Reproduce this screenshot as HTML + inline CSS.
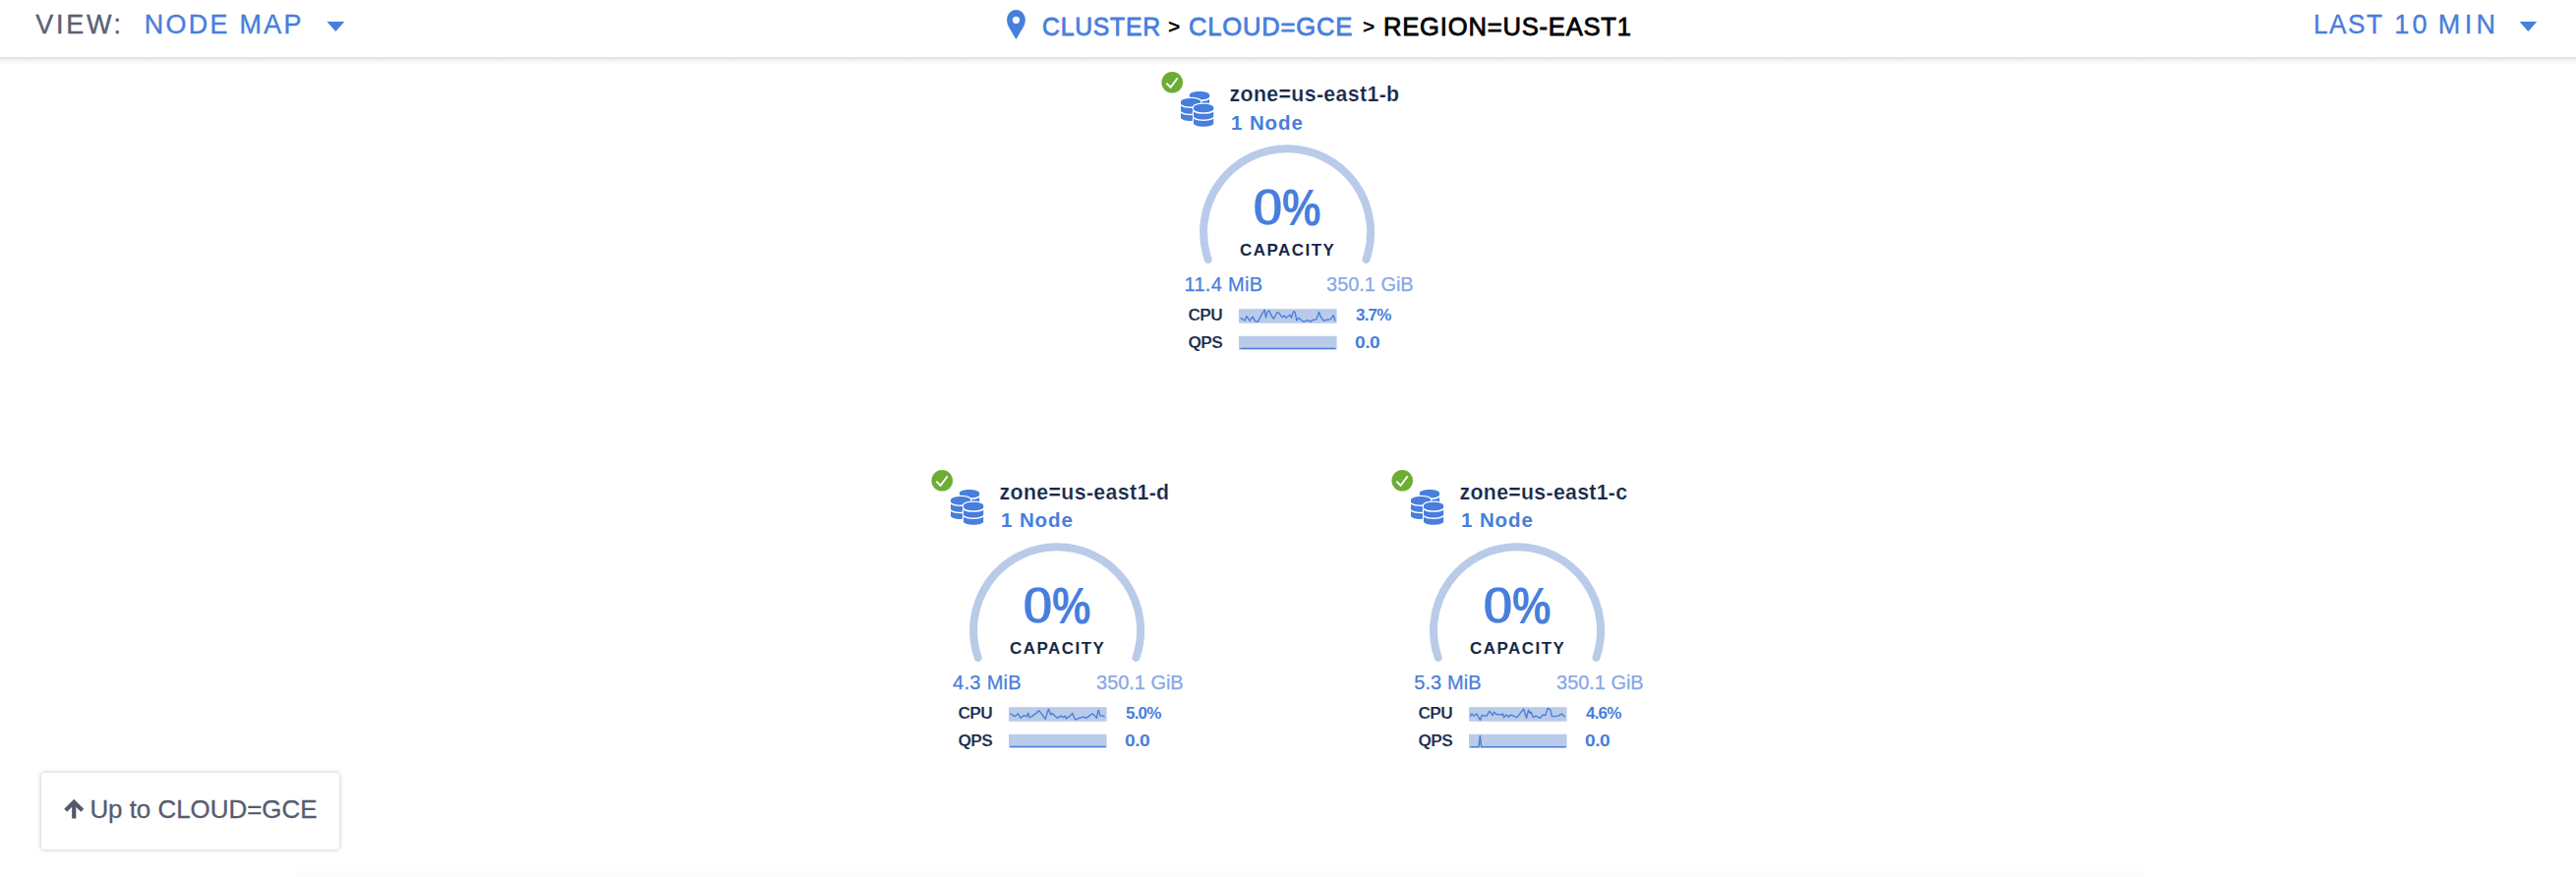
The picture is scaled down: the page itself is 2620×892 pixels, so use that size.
<!DOCTYPE html>
<html lang="en"><head><meta charset="utf-8"><title>Node Map</title>
<style>
html,body{margin:0;padding:0;background:#fff;}
body{width:2620px;height:892px;position:relative;overflow:hidden;font-family:"Liberation Sans",sans-serif;}
.hdr{position:absolute;left:0;top:0;width:2620px;height:58px;background:#fff;z-index:2;}
.hsh{position:absolute;left:0;top:58px;width:2620px;height:9px;background:linear-gradient(to bottom,rgba(0,0,0,.125) 0,rgba(0,0,0,.085) 18%,rgba(0,0,0,.045) 42%,rgba(0,0,0,.015) 70%,rgba(0,0,0,0) 100%);z-index:2;}
.t{position:absolute;white-space:nowrap;line-height:1;}
.h{font-size:27px;top:12px;}
.view{left:36.3px;color:#596075;letter-spacing:2.7px;-webkit-text-stroke:.35px #596075;}
.nmap{left:146.8px;color:#487edc;letter-spacing:2.25px;-webkit-text-stroke:.35px #487edc;}
.bc{font-size:26px;color:#487edc;letter-spacing:.8px;top:14px;-webkit-text-stroke:.8px #487edc;transform-origin:0 50%;}
.sep{color:#000;top:16px;font-size:21px;font-weight:bold;}
.cur{font-size:26px;color:#000;letter-spacing:.8px;top:14px;-webkit-text-stroke:.8px #000;transform-origin:0 50%;}
.last{color:#487edc;letter-spacing:2.27px;-webkit-text-stroke:.35px #487edc;}
.node{position:absolute;width:300px;height:320px;}
.nsvg{position:absolute;left:0;top:0;overflow:visible;}
.zone{left:90.6px;top:26px;font-size:21.3px;font-weight:bold;color:#152849;letter-spacing:.53px;-webkit-text-stroke:.2px #fff;}
.cnt{left:92px;top:54.4px;font-size:20.5px;font-weight:bold;color:#487edc;letter-spacing:.9px;}
.pct{font-weight:bold;color:#487edc;transform-origin:0 50%;}
.p0{font-size:53.5px;top:123.9px;left:113px;transform:scaleX(1.11);-webkit-text-stroke:1.6px #fff;}
.p1{font-size:51.5px;top:126.1px;left:143.8px;transform:scaleX(.862);}
.cap{left:49px;width:200px;box-sizing:border-box;padding-left:1.45px;text-align:center;top:186.1px;font-size:17px;font-weight:bold;color:#152849;letter-spacing:1.45px;}
.used{left:44.5px;top:218.8px;font-size:20px;color:#487edc;letter-spacing:.3px;-webkit-text-stroke:.25px #487edc;}
.total{left:189.1px;top:218.8px;font-size:20px;color:#86a8e6;letter-spacing:-.05px;-webkit-text-stroke:.25px #86a8e6;}
.lbl{left:48.4px;font-size:17.3px;font-weight:bold;color:#152849;letter-spacing:-.6px;-webkit-text-stroke:.2px #fff;}
.val{left:219px;font-size:17px;font-weight:bold;color:#487edc;letter-spacing:-.8px;}
.v2{letter-spacing:-.4px;left:218.4px;transform:scaleX(1.13);transform-origin:0 50%;}
.l1,.v1{top:252px;}
.l2,.v2{top:279.7px;}
.btn{position:absolute;left:42px;top:786px;width:302.5px;height:78px;background:#fff;border-radius:4px;box-shadow:0 0 5px rgba(0,0,0,.25);}
.btn .t{left:49.4px;top:23.5px;font-size:26px;color:#565c70;letter-spacing:-.05px;-webkit-text-stroke:.3px #565c70;}
</style></head><body>
<div class="hsh"></div><div class="hdr">
<div class="t h view">VIEW:</div>
<div class="t h nmap">NODE MAP</div>
<svg style="position:absolute;left:333px;top:21px;overflow:visible" width="19" height="12" viewBox="0 0 19 12"><path d="M-0.5 1H17.3L8.4 10.9Z" fill="#487edc"/></svg>
<svg style="position:absolute;left:1023px;top:9px" width="22" height="32" viewBox="0 0 22 32"><path d="M10.45 1C5.2 1 1.1 5.5 1.1 11.3C1.1 14.3 2.1 16.8 3.3 19L10.45 30.9L17.6 19C18.8 16.8 19.8 14.3 19.8 11.3C19.8 5.5 15.7 1 10.45 1Z" fill="#487edc"/><circle cx="10.45" cy="11.3" r="3.6" fill="#fff"/></svg>
<div class="t h bc" id="b1" style="left:1059.6px;transform:scaleX(.952)">CLUSTER</div>
<div class="t h sep" id="s1" style="left:1188px">&gt;</div>
<div class="t h bc" id="b2" style="left:1209.4px;transform:scaleX(.984)">CLOUD=GCE</div>
<div class="t h sep" id="s2" style="left:1386px">&gt;</div>
<div class="t h cur" id="b3" style="left:1407px;transform:scaleX(.984)">REGION=US-EAST1</div>
<div class="range"><span class="t h last" style="left:2353.4px;letter-spacing:1.6px;transform:scaleX(.969);transform-origin:0 50%">LAST</span> <span class="t h last" style="left:2435.3px;letter-spacing:3.2px">10</span> <span class="t h last" style="left:2479.8px;letter-spacing:4.4px">MIN</span></div>
<svg style="position:absolute;left:2562px;top:21px;overflow:visible" width="19" height="12" viewBox="0 0 19 12"><path d="M0.5 1H18.3L9.4 10.9Z" fill="#487edc"/></svg>
</div>
<div class="node" style="left:1160px;top:60px">
<svg class="nsvg" width="300" height="320" viewBox="0 0 300 320">
<circle cx="32.2" cy="23.8" r="10.8" fill="#6cad33"/>
<polyline points="26.3,24.6 30.6,28.8 37.7,19.2" fill="none" stroke="#fff" stroke-width="1.9"/>
<g transform="translate(49.9 33) scale(0.0451)"><path d="M448 73.143v45.714C448 159.143 347.667 192 224 192S0 159.143 0 118.857V73.143C0 32.857 100.333 0 224 0s224 32.857 224 73.143zM448 176v102.857C448 319.143 347.667 352 224 352S0 319.143 0 278.857V176c48.125 33.143 136.208 48.572 224 48.572S399.874 209.143 448 176zm0 160v102.857C448 479.143 347.667 512 224 512S0 479.143 0 438.857V336c48.125 33.143 136.208 48.572 224 48.572S399.874 369.143 448 336z" fill="#fff" stroke="#fff" stroke-width="52" stroke-linejoin="round"/><path d="M448 73.143v45.714C448 159.143 347.667 192 224 192S0 159.143 0 118.857V73.143C0 32.857 100.333 0 224 0s224 32.857 224 73.143zM448 176v102.857C448 319.143 347.667 352 224 352S0 319.143 0 278.857V176c48.125 33.143 136.208 48.572 224 48.572S399.874 209.143 448 176zm0 160v102.857C448 479.143 347.667 512 224 512S0 479.143 0 438.857V336c48.125 33.143 136.208 48.572 224 48.572S399.874 369.143 448 336z" fill="#487edc"/></g>
<g transform="translate(41 39.9) scale(0.0451)"><path d="M448 73.143v45.714C448 159.143 347.667 192 224 192S0 159.143 0 118.857V73.143C0 32.857 100.333 0 224 0s224 32.857 224 73.143zM448 176v102.857C448 319.143 347.667 352 224 352S0 319.143 0 278.857V176c48.125 33.143 136.208 48.572 224 48.572S399.874 209.143 448 176zm0 160v102.857C448 479.143 347.667 512 224 512S0 479.143 0 438.857V336c48.125 33.143 136.208 48.572 224 48.572S399.874 369.143 448 336z" fill="#fff" stroke="#fff" stroke-width="52" stroke-linejoin="round"/><path d="M448 73.143v45.714C448 159.143 347.667 192 224 192S0 159.143 0 118.857V73.143C0 32.857 100.333 0 224 0s224 32.857 224 73.143zM448 176v102.857C448 319.143 347.667 352 224 352S0 319.143 0 278.857V176c48.125 33.143 136.208 48.572 224 48.572S399.874 209.143 448 176zm0 160v102.857C448 479.143 347.667 512 224 512S0 479.143 0 438.857V336c48.125 33.143 136.208 48.572 224 48.572S399.874 369.143 448 336z" fill="#487edc"/></g>
<g transform="translate(54 45.7) scale(0.0451)"><path d="M448 73.143v45.714C448 159.143 347.667 192 224 192S0 159.143 0 118.857V73.143C0 32.857 100.333 0 224 0s224 32.857 224 73.143zM448 176v102.857C448 319.143 347.667 352 224 352S0 319.143 0 278.857V176c48.125 33.143 136.208 48.572 224 48.572S399.874 209.143 448 176zm0 160v102.857C448 479.143 347.667 512 224 512S0 479.143 0 438.857V336c48.125 33.143 136.208 48.572 224 48.572S399.874 369.143 448 336z" fill="#fff" stroke="#fff" stroke-width="52" stroke-linejoin="round"/><path d="M448 73.143v45.714C448 159.143 347.667 192 224 192S0 159.143 0 118.857V73.143C0 32.857 100.333 0 224 0s224 32.857 224 73.143zM448 176v102.857C448 319.143 347.667 352 224 352S0 319.143 0 278.857V176c48.125 33.143 136.208 48.572 224 48.572S399.874 209.143 448 176zm0 160v102.857C448 479.143 347.667 512 224 512S0 479.143 0 438.857V336c48.125 33.143 136.208 48.572 224 48.572S399.874 369.143 448 336z" fill="#487edc"/></g>
<path d="M68.73 203.87 A85 85 0 1 1 229.47 203.87" fill="none" stroke="#b9cbe9" stroke-width="8" stroke-linecap="round"/>
<g transform="translate(100 254.2)"><rect width="99.6" height="14.55" fill="#b9cbe9"/><polyline points="1.61,9.11 6.07,11.79 7.86,7.32 10.98,12.05 14.11,7.95 16.61,12.41 19.46,12.95 22.59,6.88 26.16,0.80 27.50,8.66 29.29,2.41 31.07,1.96 33.30,7.32 35.54,10.00 39.11,3.30 40.89,4.20 44.02,8.66 45.80,6.88 48.04,9.11 52.05,5.98 53.39,9.11 55.62,2.41 57.14,3.30 58.75,11.79 60.54,9.11 65.89,13.12 69.91,11.34 73.04,13.12 75.27,11.16 78.84,10.62 81.52,3.30 83.30,8.21 86.43,12.23 89.11,11.16 93.57,10.45 96.25,6.43 98.21,12.23" fill="none" stroke="#487edc" stroke-width="1.35" stroke-linejoin="round"/></g>
<g transform="translate(100 281.8)"><rect width="99.6" height="14.1" fill="#b9cbe9"/><polyline points="1.5,12.6 98.5,12.6" fill="none" stroke="#487edc" stroke-width="1.4" stroke-linejoin="round"/></g>
</svg>
<div class="t zone" style="letter-spacing:0.36px">zone=us-east1-b</div>
<div class="t cnt" style="top:55.2px">1 Node</div>
<div class="pctw"><span class="t pct p0">0</span><span class="t pct p1">%</span></div>
<div class="t cap">CAPACITY</div>
<div class="t used" style="left:44.5px;letter-spacing:0.3px">11.4 MiB</div>
<div class="t total">350.1 GiB</div>
<div class="t lbl l1">CPU</div>
<div class="t lbl l2">QPS</div>
<div class="t val v1">3.7%</div>
<div class="t val v2">0.0</div>
</div>
<div class="node" style="left:926px;top:465px">
<svg class="nsvg" width="300" height="320" viewBox="0 0 300 320">
<circle cx="32.2" cy="23.8" r="10.8" fill="#6cad33"/>
<polyline points="26.3,24.6 30.6,28.8 37.7,19.2" fill="none" stroke="#fff" stroke-width="1.9"/>
<g transform="translate(49.9 33) scale(0.0451)"><path d="M448 73.143v45.714C448 159.143 347.667 192 224 192S0 159.143 0 118.857V73.143C0 32.857 100.333 0 224 0s224 32.857 224 73.143zM448 176v102.857C448 319.143 347.667 352 224 352S0 319.143 0 278.857V176c48.125 33.143 136.208 48.572 224 48.572S399.874 209.143 448 176zm0 160v102.857C448 479.143 347.667 512 224 512S0 479.143 0 438.857V336c48.125 33.143 136.208 48.572 224 48.572S399.874 369.143 448 336z" fill="#fff" stroke="#fff" stroke-width="52" stroke-linejoin="round"/><path d="M448 73.143v45.714C448 159.143 347.667 192 224 192S0 159.143 0 118.857V73.143C0 32.857 100.333 0 224 0s224 32.857 224 73.143zM448 176v102.857C448 319.143 347.667 352 224 352S0 319.143 0 278.857V176c48.125 33.143 136.208 48.572 224 48.572S399.874 209.143 448 176zm0 160v102.857C448 479.143 347.667 512 224 512S0 479.143 0 438.857V336c48.125 33.143 136.208 48.572 224 48.572S399.874 369.143 448 336z" fill="#487edc"/></g>
<g transform="translate(41 39.9) scale(0.0451)"><path d="M448 73.143v45.714C448 159.143 347.667 192 224 192S0 159.143 0 118.857V73.143C0 32.857 100.333 0 224 0s224 32.857 224 73.143zM448 176v102.857C448 319.143 347.667 352 224 352S0 319.143 0 278.857V176c48.125 33.143 136.208 48.572 224 48.572S399.874 209.143 448 176zm0 160v102.857C448 479.143 347.667 512 224 512S0 479.143 0 438.857V336c48.125 33.143 136.208 48.572 224 48.572S399.874 369.143 448 336z" fill="#fff" stroke="#fff" stroke-width="52" stroke-linejoin="round"/><path d="M448 73.143v45.714C448 159.143 347.667 192 224 192S0 159.143 0 118.857V73.143C0 32.857 100.333 0 224 0s224 32.857 224 73.143zM448 176v102.857C448 319.143 347.667 352 224 352S0 319.143 0 278.857V176c48.125 33.143 136.208 48.572 224 48.572S399.874 209.143 448 176zm0 160v102.857C448 479.143 347.667 512 224 512S0 479.143 0 438.857V336c48.125 33.143 136.208 48.572 224 48.572S399.874 369.143 448 336z" fill="#487edc"/></g>
<g transform="translate(54 45.7) scale(0.0451)"><path d="M448 73.143v45.714C448 159.143 347.667 192 224 192S0 159.143 0 118.857V73.143C0 32.857 100.333 0 224 0s224 32.857 224 73.143zM448 176v102.857C448 319.143 347.667 352 224 352S0 319.143 0 278.857V176c48.125 33.143 136.208 48.572 224 48.572S399.874 209.143 448 176zm0 160v102.857C448 479.143 347.667 512 224 512S0 479.143 0 438.857V336c48.125 33.143 136.208 48.572 224 48.572S399.874 369.143 448 336z" fill="#fff" stroke="#fff" stroke-width="52" stroke-linejoin="round"/><path d="M448 73.143v45.714C448 159.143 347.667 192 224 192S0 159.143 0 118.857V73.143C0 32.857 100.333 0 224 0s224 32.857 224 73.143zM448 176v102.857C448 319.143 347.667 352 224 352S0 319.143 0 278.857V176c48.125 33.143 136.208 48.572 224 48.572S399.874 209.143 448 176zm0 160v102.857C448 479.143 347.667 512 224 512S0 479.143 0 438.857V336c48.125 33.143 136.208 48.572 224 48.572S399.874 369.143 448 336z" fill="#487edc"/></g>
<path d="M68.73 203.87 A85 85 0 1 1 229.47 203.87" fill="none" stroke="#b9cbe9" stroke-width="8" stroke-linecap="round"/>
<g transform="translate(100 254.2)"><rect width="99.6" height="14.55" fill="#b9cbe9"/><polyline points="1.30,6.74 6.20,9.46 9.46,6.74 12.17,11.09 15.43,8.37 18.15,9.46 19.78,6.20 20.87,10.54 23.59,9.46 27.93,6.20 30.65,3.48 33.37,6.74 37.17,12.17 40.43,1.85 42.61,7.83 44.24,6.20 49.13,11.09 52.93,8.91 55.11,10.54 57.28,8.91 58.37,11.63 61.63,9.46 64.89,6.20 67.07,12.17 68.70,12.72 71.41,11.09 75.76,10.00 79.02,11.09 81.74,8.91 85.00,6.74 87.17,8.37 89.35,11.09 91.20,2.93 93.15,8.91 96.41,8.91 97.50,10.00" fill="none" stroke="#487edc" stroke-width="1.35" stroke-linejoin="round"/></g>
<g transform="translate(100 281.8)"><rect width="99.6" height="14.1" fill="#b9cbe9"/><polyline points="1.5,12.6 98.5,12.6" fill="none" stroke="#487edc" stroke-width="1.4" stroke-linejoin="round"/></g>
</svg>
<div class="t zone" style="letter-spacing:0.36px">zone=us-east1-d</div>
<div class="t cnt" style="top:54.4px">1 Node</div>
<div class="pctw"><span class="t pct p0">0</span><span class="t pct p1">%</span></div>
<div class="t cap">CAPACITY</div>
<div class="t used" style="left:43.1px;letter-spacing:0.3px">4.3 MiB</div>
<div class="t total">350.1 GiB</div>
<div class="t lbl l1">CPU</div>
<div class="t lbl l2">QPS</div>
<div class="t val v1">5.0%</div>
<div class="t val v2">0.0</div>
</div>
<div class="node" style="left:1394px;top:465px">
<svg class="nsvg" width="300" height="320" viewBox="0 0 300 320">
<circle cx="32.2" cy="23.8" r="10.8" fill="#6cad33"/>
<polyline points="26.3,24.6 30.6,28.8 37.7,19.2" fill="none" stroke="#fff" stroke-width="1.9"/>
<g transform="translate(49.9 33) scale(0.0451)"><path d="M448 73.143v45.714C448 159.143 347.667 192 224 192S0 159.143 0 118.857V73.143C0 32.857 100.333 0 224 0s224 32.857 224 73.143zM448 176v102.857C448 319.143 347.667 352 224 352S0 319.143 0 278.857V176c48.125 33.143 136.208 48.572 224 48.572S399.874 209.143 448 176zm0 160v102.857C448 479.143 347.667 512 224 512S0 479.143 0 438.857V336c48.125 33.143 136.208 48.572 224 48.572S399.874 369.143 448 336z" fill="#fff" stroke="#fff" stroke-width="52" stroke-linejoin="round"/><path d="M448 73.143v45.714C448 159.143 347.667 192 224 192S0 159.143 0 118.857V73.143C0 32.857 100.333 0 224 0s224 32.857 224 73.143zM448 176v102.857C448 319.143 347.667 352 224 352S0 319.143 0 278.857V176c48.125 33.143 136.208 48.572 224 48.572S399.874 209.143 448 176zm0 160v102.857C448 479.143 347.667 512 224 512S0 479.143 0 438.857V336c48.125 33.143 136.208 48.572 224 48.572S399.874 369.143 448 336z" fill="#487edc"/></g>
<g transform="translate(41 39.9) scale(0.0451)"><path d="M448 73.143v45.714C448 159.143 347.667 192 224 192S0 159.143 0 118.857V73.143C0 32.857 100.333 0 224 0s224 32.857 224 73.143zM448 176v102.857C448 319.143 347.667 352 224 352S0 319.143 0 278.857V176c48.125 33.143 136.208 48.572 224 48.572S399.874 209.143 448 176zm0 160v102.857C448 479.143 347.667 512 224 512S0 479.143 0 438.857V336c48.125 33.143 136.208 48.572 224 48.572S399.874 369.143 448 336z" fill="#fff" stroke="#fff" stroke-width="52" stroke-linejoin="round"/><path d="M448 73.143v45.714C448 159.143 347.667 192 224 192S0 159.143 0 118.857V73.143C0 32.857 100.333 0 224 0s224 32.857 224 73.143zM448 176v102.857C448 319.143 347.667 352 224 352S0 319.143 0 278.857V176c48.125 33.143 136.208 48.572 224 48.572S399.874 209.143 448 176zm0 160v102.857C448 479.143 347.667 512 224 512S0 479.143 0 438.857V336c48.125 33.143 136.208 48.572 224 48.572S399.874 369.143 448 336z" fill="#487edc"/></g>
<g transform="translate(54 45.7) scale(0.0451)"><path d="M448 73.143v45.714C448 159.143 347.667 192 224 192S0 159.143 0 118.857V73.143C0 32.857 100.333 0 224 0s224 32.857 224 73.143zM448 176v102.857C448 319.143 347.667 352 224 352S0 319.143 0 278.857V176c48.125 33.143 136.208 48.572 224 48.572S399.874 209.143 448 176zm0 160v102.857C448 479.143 347.667 512 224 512S0 479.143 0 438.857V336c48.125 33.143 136.208 48.572 224 48.572S399.874 369.143 448 336z" fill="#fff" stroke="#fff" stroke-width="52" stroke-linejoin="round"/><path d="M448 73.143v45.714C448 159.143 347.667 192 224 192S0 159.143 0 118.857V73.143C0 32.857 100.333 0 224 0s224 32.857 224 73.143zM448 176v102.857C448 319.143 347.667 352 224 352S0 319.143 0 278.857V176c48.125 33.143 136.208 48.572 224 48.572S399.874 209.143 448 176zm0 160v102.857C448 479.143 347.667 512 224 512S0 479.143 0 438.857V336c48.125 33.143 136.208 48.572 224 48.572S399.874 369.143 448 336z" fill="#487edc"/></g>
<path d="M68.73 203.87 A85 85 0 1 1 229.47 203.87" fill="none" stroke="#b9cbe9" stroke-width="8" stroke-linecap="round"/>
<g transform="translate(100 254.2)"><rect width="99.6" height="14.55" fill="#b9cbe9"/><polyline points="1.30,9.46 2.93,6.74 5.11,8.91 7.83,6.74 11.41,13.26 13.26,8.37 18.15,8.91 20.87,4.02 24.13,8.37 25.76,5.11 27.93,7.28 33.37,7.83 34.46,6.74 35.54,10.54 38.26,7.83 40.43,10.00 42.61,7.83 45.33,8.91 48.59,10.54 51.85,6.74 55.65,1.85 58.59,11.09 60.54,2.93 62.17,6.20 63.26,5.11 65.43,10.54 68.15,8.91 72.50,11.09 75.22,7.83 77.93,8.37 80.11,1.30 82.83,2.39 84.46,9.46 87.17,9.46 90.98,8.91 94.24,6.74 97.72,10.00" fill="none" stroke="#487edc" stroke-width="1.35" stroke-linejoin="round"/></g>
<g transform="translate(100 281.8)"><rect width="99.6" height="14.1" fill="#b9cbe9"/><polyline points="1.5,12.8 10,12.8 11.3,1.6 12.7,12.8 98.5,12.8" fill="none" stroke="#487edc" stroke-width="1.4" stroke-linejoin="round"/></g>
</svg>
<div class="t zone" style="letter-spacing:0.3px">zone=us-east1-c</div>
<div class="t cnt" style="top:54.4px">1 Node</div>
<div class="pctw"><span class="t pct p0">0</span><span class="t pct p1">%</span></div>
<div class="t cap">CAPACITY</div>
<div class="t used" style="left:44.2px;letter-spacing:0.1px">5.3 MiB</div>
<div class="t total">350.1 GiB</div>
<div class="t lbl l1">CPU</div>
<div class="t lbl l2">QPS</div>
<div class="t val v1">4.6%</div>
<div class="t val v2">0.0</div>
</div>
<div class="btn"><svg style="position:absolute;left:23px;top:27px" width="22" height="22" viewBox="0 0 22 22"><path d="M10.25 19.4V4M1.7 11.35L10.25 2.8L18.8 11.35" fill="none" stroke="#54596b" stroke-width="4.2"/></svg><div class="t" id="btnt">Up to CLOUD=GCE</div></div>
<div style="position:absolute;left:300px;top:872px;width:1880px;height:20px;background:linear-gradient(to bottom,rgba(0,0,0,0),rgba(0,0,0,.012));border-radius:60px 60px 0 0"></div>
</body></html>
